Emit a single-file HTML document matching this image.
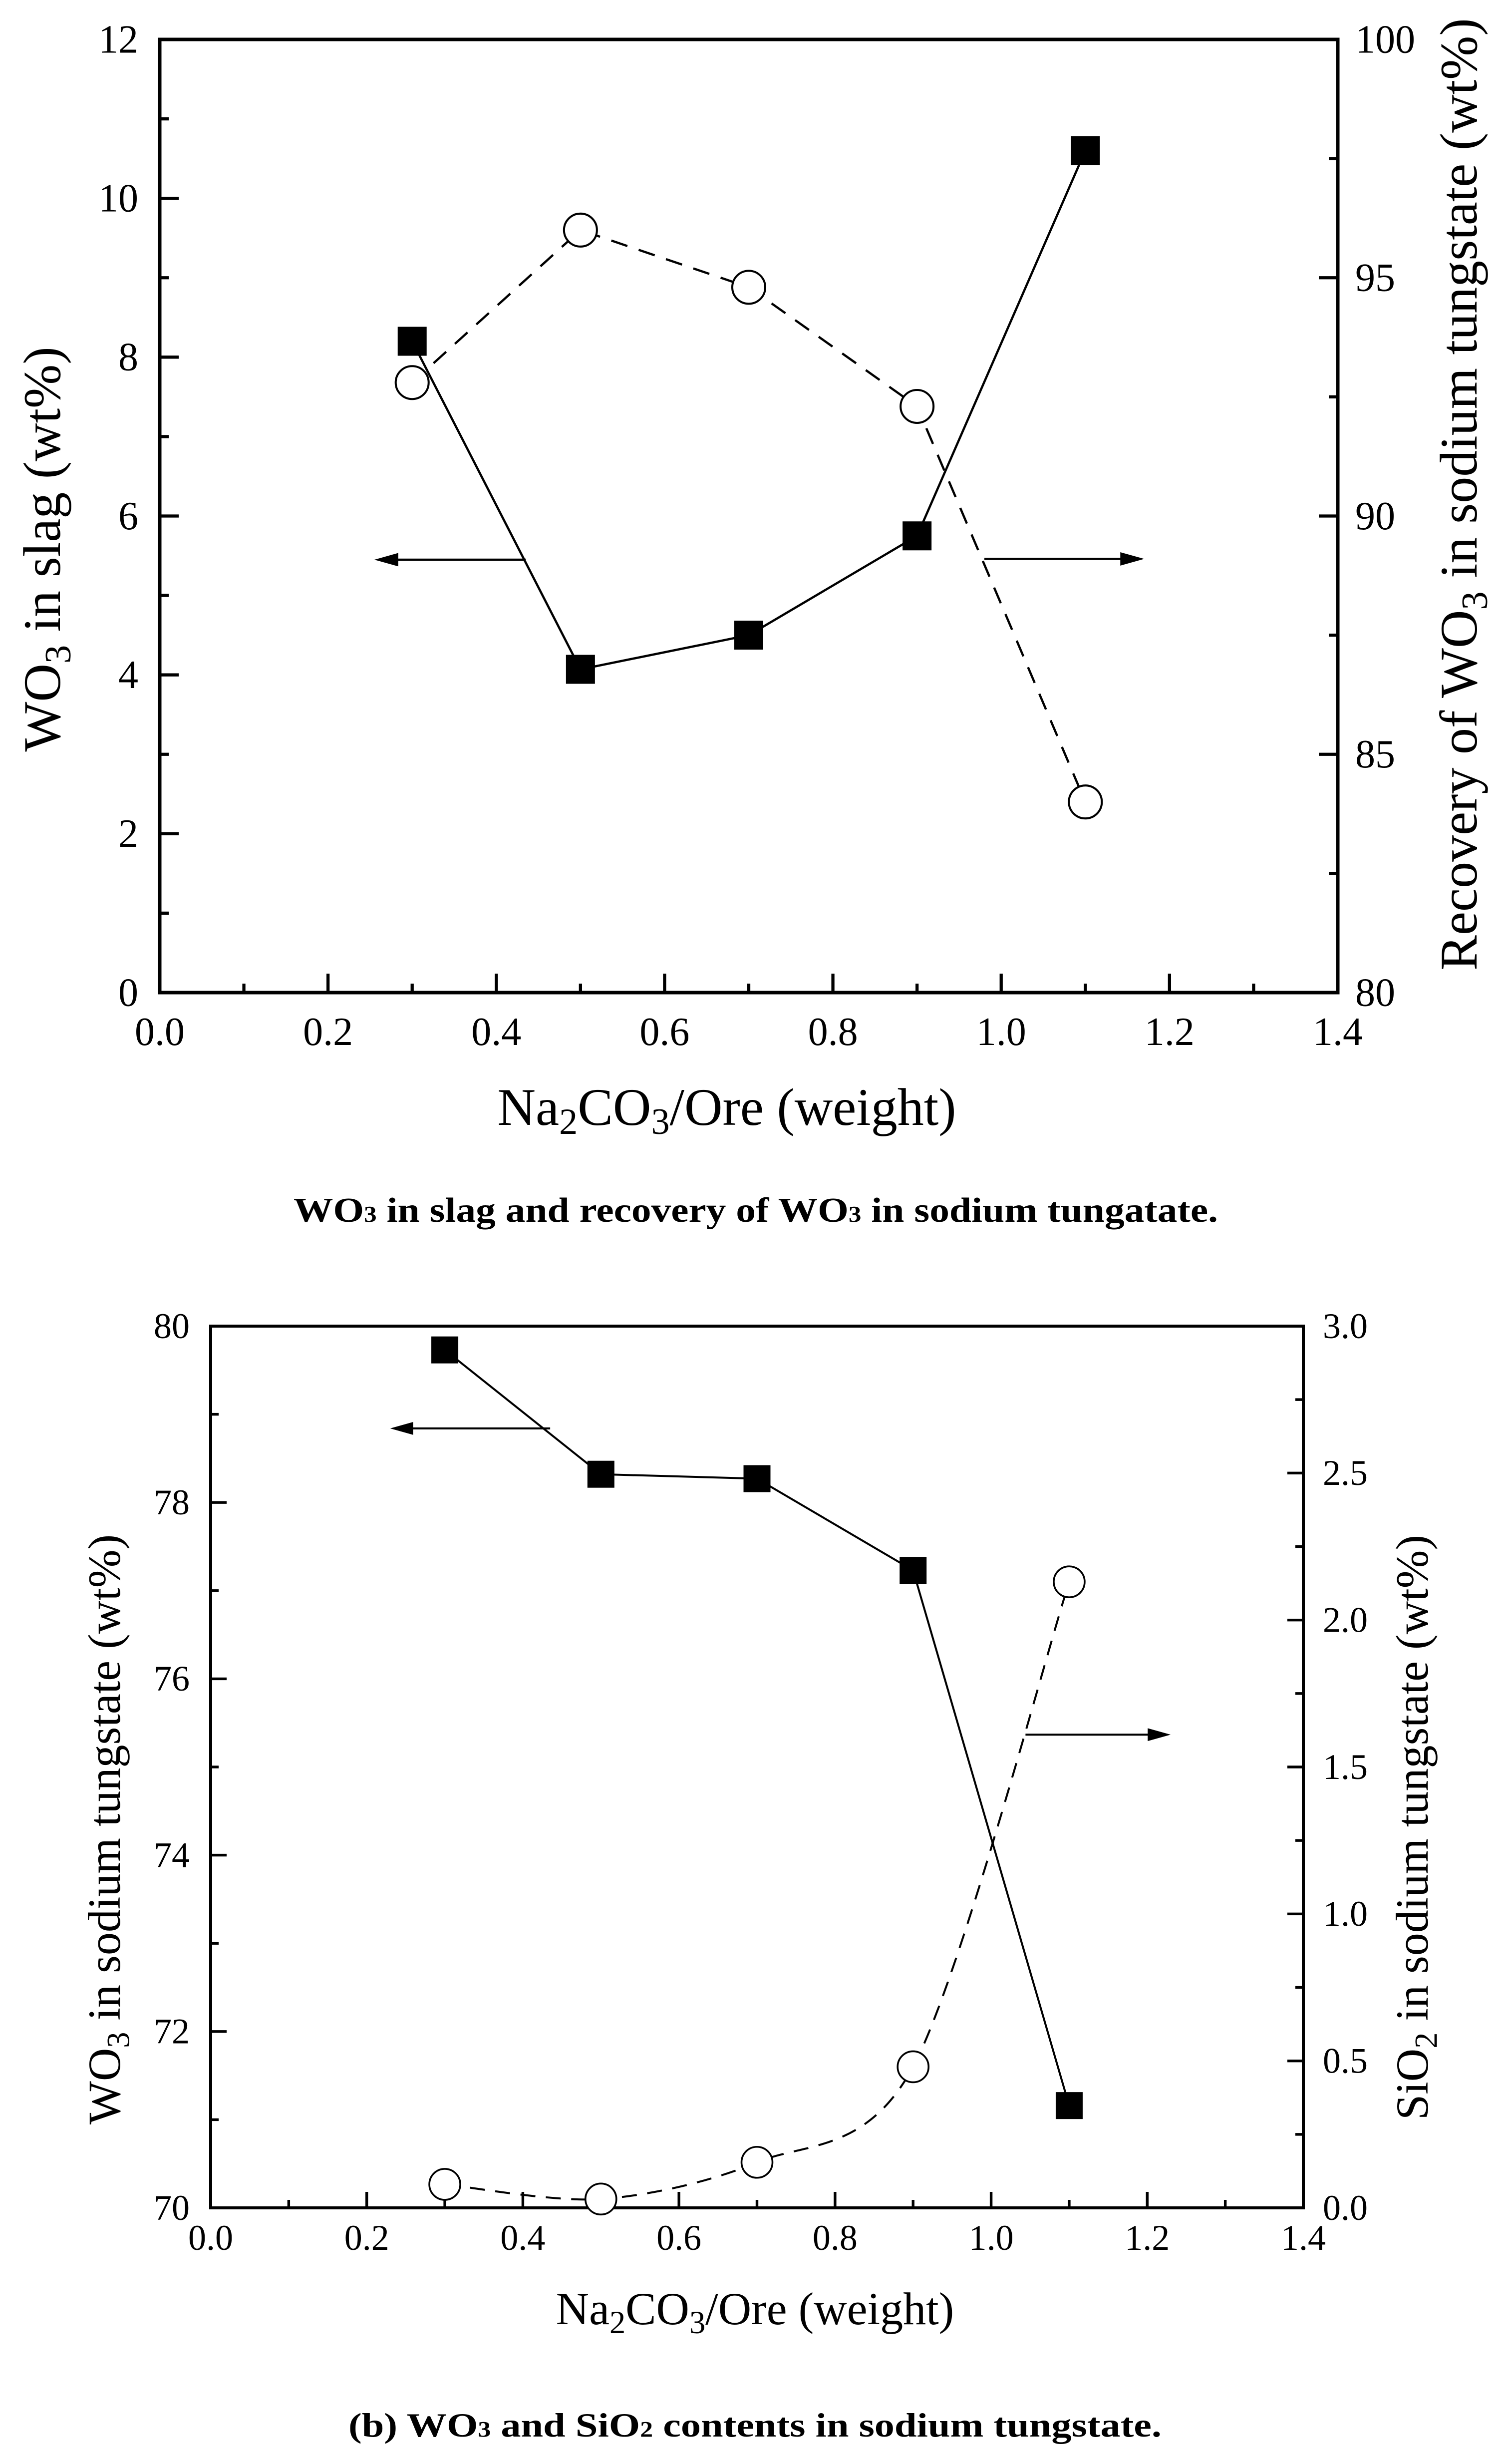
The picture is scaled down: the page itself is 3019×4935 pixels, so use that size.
<!DOCTYPE html>
<html><head><meta charset="utf-8"><style>
html,body{margin:0;padding:0;background:#fff}
svg{display:block}
text{font-family:"Liberation Serif","Times New Roman",serif;fill:#000}
</style></head><body>
<svg id="fig" width="3019" height="4935" viewBox="0 0 3019 4935" xmlns="http://www.w3.org/2000/svg" font-family="Liberation Serif, Times New Roman, serif"></svg>
<script>
// ---- Chart A data ----
const catsA = [0.3, 0.5, 0.7, 0.9, 1.1];
const slagA = [8.2, 4.07, 4.5, 5.75, 10.6];
const recovA = [92.8, 96.0, 94.8, 92.3, 84.0];
const xTicksA = ["0.0","0.2","0.4","0.6","0.8","1.0","1.2","1.4"];
const yLTicksA = ["0","2","4","6","8","10","12"];
const yRTicksA = ["80","85","90","95","100"];
// ---- Chart B data ----
const catsB = [0.3, 0.5, 0.7, 0.9, 1.1];
const wo3B = [79.73, 78.32, 78.27, 77.23, 71.16];
const sio2B = [0.08, 0.03, 0.155, 0.48, 2.13];
const xTicksB = ["0.0","0.2","0.4","0.6","0.8","1.0","1.2","1.4"];
const yLTicksB = ["70","72","74","76","78","80"];
const yRTicksB = ["0.0","0.5","1.0","1.5","2.0","2.5","3.0"];

const NS="http://www.w3.org/2000/svg";
const svg=document.getElementById('fig');
const FF='Liberation Serif, Times New Roman, serif';
function el(tag,attrs,parent,txt){const e=document.createElementNS(NS,tag);for(const k in attrs)e.setAttribute(k,attrs[k]);if(tag==='text')e.setAttribute('font-family',FF);if(txt!==undefined)e.textContent=txt;(parent||svg).appendChild(e);return e;}

function smoothPath(pts){
  let d=`M${pts[0][0]},${pts[0][1]}`;
  for(let i=0;i<pts.length-1;i++){
    const p0=pts[Math.max(0,i-1)],p1=pts[i],p2=pts[i+1],p3=pts[Math.min(pts.length-1,i+2)];
    const t=0.15;
    const c1=[p1[0]+(p2[0]-p0[0])*t,p1[1]+(p2[1]-p0[1])*t];
    const c2=[p2[0]-(p3[0]-p1[0])*t,p2[1]-(p3[1]-p1[1])*t];
    d+=` C${c1[0]},${c1[1]} ${c2[0]},${c2[1]} ${p2[0]},${p2[1]}`;
  }
  return d;
}

function chart(cfg){
  const g=el('g',{});
  
  
  const {L,R,T,B}=cfg;
  const xs=v=>L+(v-0)/1.4*(R-L);
  const yl=v=>B-(v-cfg.yl0)/(cfg.yl1-cfg.yl0)*(B-T);
  const yr=v=>B-(v-cfg.yr0)/(cfg.yr1-cfg.yr0)*(B-T);
  const fs=cfg.fs, lw=cfg.lw, maj=cfg.maj, mn=cfg.mn;
  const fr=el('rect',{x:L,y:T,width:R-L,height:B-T,fill:'none',stroke:'#000','stroke-width':lw},g);
  
  
  const xt=el('g',{},g);
  
  
  for(let i=0;i<=14;i++){
    const v=i/10, x=xs(v), len=(i%2===0)?maj:mn;
    el('line',{x1:x,y1:B,x2:x,y2:B-len,stroke:'#000','stroke-width':lw*0.9},xt);
  }
  cfg.xTicks.forEach(s=>{
    const t=el('text',{x:xs(parseFloat(s)),y:cfg.xLabY,'font-size':fs,'text-anchor':'middle'},xt,s);
    
    
  });
  const ylg=el('g',{},g);
  
  
  for(let v=cfg.yl0; v<=cfg.yl1+1e-9; v+=cfg.ylMinor){
    const isMaj=Math.abs(((v-cfg.yl0)/cfg.ylMajor)-Math.round((v-cfg.yl0)/cfg.ylMajor))<1e-6;
    el('line',{x1:L,y1:yl(v),x2:L+(isMaj?maj:mn),y2:yl(v),stroke:'#000','stroke-width':lw*0.9},ylg);
  }
  cfg.ylTicks.forEach(s=>{
    const t=el('text',{x:cfg.ylLabX,y:yl(parseFloat(s))+fs*0.33,'font-size':fs,'text-anchor':'end'},ylg,s);
    
    
  });
  const yrg=el('g',{},g);
  
  
  for(let v=cfg.yr0; v<=cfg.yr1+1e-9; v+=cfg.yrMinor){
    const isMaj=Math.abs(((v-cfg.yr0)/cfg.yrMajor)-Math.round((v-cfg.yr0)/cfg.yrMajor))<1e-6;
    el('line',{x1:R,y1:yr(v),x2:R-(isMaj?maj:mn),y2:yr(v),stroke:'#000','stroke-width':lw*0.9},yrg);
  }
  cfg.yrTicks.forEach(s=>{
    const t=el('text',{x:cfg.yrLabX,y:yr(parseFloat(s))+fs*0.33,'font-size':fs,'text-anchor':'start'},yrg,s);
    
    
  });
  const xtitle=el('text',{x:(cfg.xtA+cfg.xtB)/2,y:cfg.xtY,'font-size':cfg.tfs,'text-anchor':'middle'},g);
  
  
  xtitle.innerHTML='Na<tspan dy="18" font-size="'+cfg.tfs*0.7+'">2</tspan><tspan dy="-18">CO</tspan><tspan dy="18" font-size="'+cfg.tfs*0.7+'">3</tspan><tspan dy="-18">/Ore (weight)</tspan>';
  const lt=el('text',{transform:`translate(${cfg.ltX},${cfg.ltC}) rotate(-90)`,x:0,y:0,'font-size':cfg.tfs,'text-anchor':'middle'},g);
  
  
  lt.innerHTML=cfg.ltHtml;
  const rt=el('text',{transform:`translate(${cfg.rtX},${cfg.rtC}) rotate(-90)`,x:0,y:0,'font-size':cfg.tfs,'text-anchor':'middle'},g);
  
  
  rt.innerHTML=cfg.rtHtml;
  const ptsR=cfg.cats.map((c,i)=>[xs(c),yr(cfg.rVals[i])]);
  const dPath=cfg.smooth?smoothPath(ptsR):('M'+ptsR.map(p=>p.join(',')).join(' L'));
  const dl=el('path',{d:dPath,fill:'none',stroke:'#000','stroke-width':cfg.slw,'stroke-dasharray':`${cfg.dash} ${cfg.dash*0.7}`},g);
  
  
  const ptsL=cfg.cats.map((c,i)=>[xs(c),yl(cfg.lVals[i])]);
  const sl=el('polyline',{points:ptsL.map(p=>p.join(',')).join(' '),fill:'none',stroke:'#000','stroke-width':cfg.slw},g);
  
  
  ptsR.forEach(p=>{
    const c=el('circle',{cx:p[0],cy:p[1],r:cfg.cr,fill:'#fff',stroke:'#000','stroke-width':cfg.slw*0.9},g);
    
    
  });
  ptsL.forEach(p=>{
    const s=el('rect',{x:p[0]-cfg.sq/2,y:p[1]-cfg.sq/2,width:cfg.sq,height:cfg.sq,fill:'#000'},g);
    
    
  });
  function arrow(x1,x2,y,name){
    const a=el('g',{},g);
    
    
    const X1=xs(x1),X2=xs(x2),dir=Math.sign(X2-X1),hl=cfg.ah;
    el('line',{x1:X1,y1:y,x2:X2-dir*hl*0.8,y2:y,stroke:'#000','stroke-width':cfg.slw},a);
    el('polygon',{points:`${X2},${y} ${X2-dir*hl},${y-hl*0.28} ${X2-dir*hl},${y+hl*0.28}`,fill:'#000'},a);
  }
  arrow(cfg.la[0],cfg.la[1],yl(cfg.la[2]),'left-axis-arrow');
  arrow(cfg.ra[0],cfg.ra[1],yr(cfg.ra[2]),'right-axis-arrow');
  const cap=el('text',{x:(cfg.cA+cfg.cB)/2,y:cfg.cY,'font-size':cfg.cfs,'font-weight':'bold','text-anchor':'middle',textLength:cfg.cB-cfg.cA,lengthAdjust:'spacingAndGlyphs'},g);
  
  
  cap.innerHTML=cfg.capHtml;
}

const sub=(t,fs)=>`<tspan dy="${fs*0.2}" font-size="${fs*0.7}">${t}</tspan><tspan dy="${-fs*0.2}">`;

chart({name:'chart-slag-recovery',L:320,R:2680,T:79,B:1988,smooth:false,
  yl0:0,yl1:12,ylMajor:2,ylMinor:1,yr0:80,yr1:100,yrMajor:5,yrMinor:2.5,
  fs:80,tfs:106,lw:7,maj:38,mn:18,slw:4.5,cr:33,sq:58,dash:34,ah:48,
  xTicks:xTicksA,ylTicks:yLTicksA,yrTicks:yRTicksA,xLabY:2093,ylLabX:277,yrLabX:2715,
  xtA:984,xtB:1928,xtY:2253,
  ltX:120,ltC:1100,ltHtml:'WO'+sub('3',106)+' in slag (wt%)</tspan>',
  rtX:2958,rtC:990,rtHtml:'Recovery of WO'+sub('3',106)+' in sodium tungstate (wt%)</tspan>',
  cats:catsA,lVals:slagA,rVals:recovA,
  la:[0.435,0.255,5.45],ra:[0.98,1.17,89.1],
  cA:588,cB:2440,cY:2447,cfs:70,
  capHtml:'WO<tspan font-size="45">3</tspan> in slag and recovery of WO<tspan font-size="45">3</tspan> in sodium tungatate.'});

chart({name:'chart-tungstate-contents',L:422,R:2611,T:2656,B:4422,smooth:true,
  yl0:70,yl1:80,ylMajor:2,ylMinor:1,yr0:0,yr1:3,yrMajor:0.5,yrMinor:0.25,
  fs:72,tfs:92,lw:6,maj:32,mn:16,slw:4,cr:31,sq:54,dash:30,ah:46,
  xTicks:xTicksB,ylTicks:yLTicksB,yrTicks:yRTicksB,xLabY:4506,ylLabX:380,yrLabX:2650,
  xtA:1116,xtB:1909,xtY:4655,
  ltX:240,ltC:3664,ltHtml:'WO'+sub('3',92)+' in sodium tungstate (wt%)</tspan>',
  rtX:2860,rtC:3660,rtHtml:'SiO'+sub('2',92)+' in sodium tungstate (wt%)</tspan>',
  cats:catsB,lVals:wo3B,rVals:sio2B,
  la:[0.435,0.23,78.84],ra:[1.044,1.23,1.61],
  cA:698,cB:2327,cY:4880,cfs:68,
  capHtml:'(b) WO<tspan font-size="44">3</tspan> and SiO<tspan font-size="44">2</tspan> contents in sodium tungstate.'});
</script>
</body></html>
